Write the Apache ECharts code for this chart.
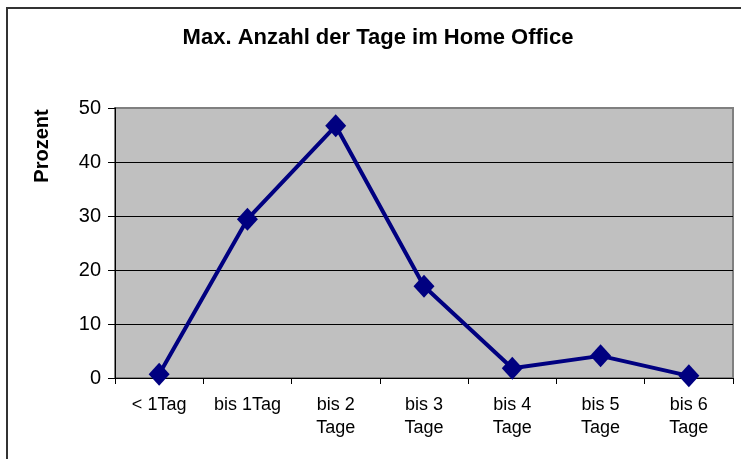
<!DOCTYPE html>
<html>
<head>
<meta charset="utf-8">
<script src="https://cdn.jsdelivr.net/npm/echarts@6/dist/echarts.min.js"></script>
<style>
  html, body { margin: 0; padding: 0; background: #fff; }
  #chart { width: 741px; height: 459px; }
</style>
</head>
<body>
<div id="chart"></div>
<script>
var categories = ['< 1Tag', 'bis 1Tag', 'bis 2\nTage', 'bis 3\nTage', 'bis 4\nTage', 'bis 5\nTage', 'bis 6\nTage'];
var prozent = [0.7, 29.4, 46.7, 17.0, 1.8, 4.1, 0.4];
var yTicks = { min: 0, max: 50, interval: 10 };

var dom = document.getElementById('chart');
var myChart = echarts.init(dom);
var fontFam = '"Liberation Sans", Arial, sans-serif';

var option = {
  backgroundColor: '#fff',
  animation: false,
  title: {
    text: 'Max. Anzahl der Tage im Home Office',
    left: 378,
    textAlign: 'center',
    top: 27,
    padding: 0,
    textStyle: {
      color: '#000',
      fontSize: 22,
      fontWeight: 'bold',
      fontFamily: fontFam
    }
  },
  // Rahmen + Achsentitel
  graphic: [
    {
      type: 'rect',
      shape: { x: 7, y: 8, width: 780, height: 500 },
      style: { fill: null, stroke: '#333', lineWidth: 2 },
      silent: true
    },
    {
      type: 'text',
      x: 42,
      y: 146,
      rotation: Math.PI / 2,
      style: {
        text: 'Prozent',
        font: 'bold 20px ' + fontFam,
        fill: '#000',
        align: 'center',
        verticalAlign: 'middle'
      }
    }
  ],
  grid: {
    left: 115,
    top: 108,
    right: 8,
    bottom: 81,
    show: true,
    backgroundColor: '#c0c0c0',
    borderColor: '#808080',
    borderWidth: 2
  },
  xAxis: {
    type: 'category',
    data: categories,
    boundaryGap: true,
    axisLine: { lineStyle: { color: '#000', width: 1 } },
    axisTick: { show: true, length: 6, lineStyle: { color: '#000' } },
    axisLabel: {
      interval: 0,
      color: '#000',
      fontSize: 18,
      lineHeight: 23,
      margin: 16,
      fontFamily: fontFam
    },
    splitLine: { show: false }
  },
  yAxis: {
    type: 'value',
    min: yTicks.min,
    max: yTicks.max,
    interval: yTicks.interval,
    axisLine: { show: true, lineStyle: { color: '#000', width: 1 } },
    axisTick: { show: true, length: 7, lineStyle: { color: '#000' } },
    axisLabel: {
      color: '#000',
      fontSize: 20,
      margin: 14,
      fontFamily: fontFam
    },
    splitLine: {
      show: true,
      lineStyle: { color: ['#000', '#000', '#000', '#000', '#000', '#808080'], width: 1 }
    }
  },
  series: [
    {
      name: 'Prozent',
      type: 'line',
      data: prozent,
      symbol: 'diamond',
      symbolSize: [21, 23],
      itemStyle: { color: '#000080' },
      lineStyle: { color: '#000080', width: 4 }
    }
  ]
};

if (option && typeof option === 'object') {
  myChart.setOption(option, true);
}
</script>
</body>
</html>
